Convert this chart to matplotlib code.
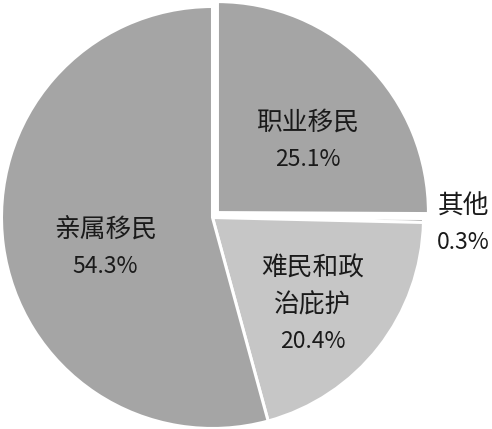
import matplotlib
matplotlib.use('Agg')
import matplotlib.pyplot as plt

plt.rcParams['font.family'] = ['Noto Sans CJK SC', 'DejaVu Sans']

# 各类移民占比（%）
categories = ['职业移民', '其他', '难民和政\n治庇护', '亲属移民']
shares = [25.1, 0.3, 20.4, 54.3]
colors = ['#a5a5a5', '#a5a5a5', '#c6c6c6', '#a5a5a5']
explode = [0.033, 0, 0, 0]

# 标签中心位置（饼图坐标，半径为1）
label_pos = [(0.450, 0.363), (1.190, -0.033), (0.476, -0.415), (-0.507, -0.145)]

fig = plt.figure(figsize=(4.92, 4.29), dpi=100)
ax = fig.add_axes([0, 0, 1, 1])
ax.pie(shares, colors=colors, explode=explode, startangle=90, counterclock=False,
       wedgeprops=dict(edgecolor='white', linewidth=2.2))
ax.set_xlim(-1.0071, 1.3246)
ax.set_ylim(-1.0024, 1.0308)
ax.set_aspect('auto')
ax.axis('off')

pitch = 26.3  # 行距（磅）
for cat, val, (x, y) in zip(categories, shares, label_pos):
    lines = cat.split('\n') + ['%.1f%%' % val]
    n = len(lines)
    for i, line in enumerate(lines):
        off = ((n - 1) / 2 - i) * pitch
        size = 16.5 if i == n - 1 else 18.5
        ax.annotate(line, (x, y), xytext=(0, off), textcoords='offset points',
                    ha='center', va='center', fontsize=size, color='#1a1a1a')

fig.savefig('out.png', dpi=100)
